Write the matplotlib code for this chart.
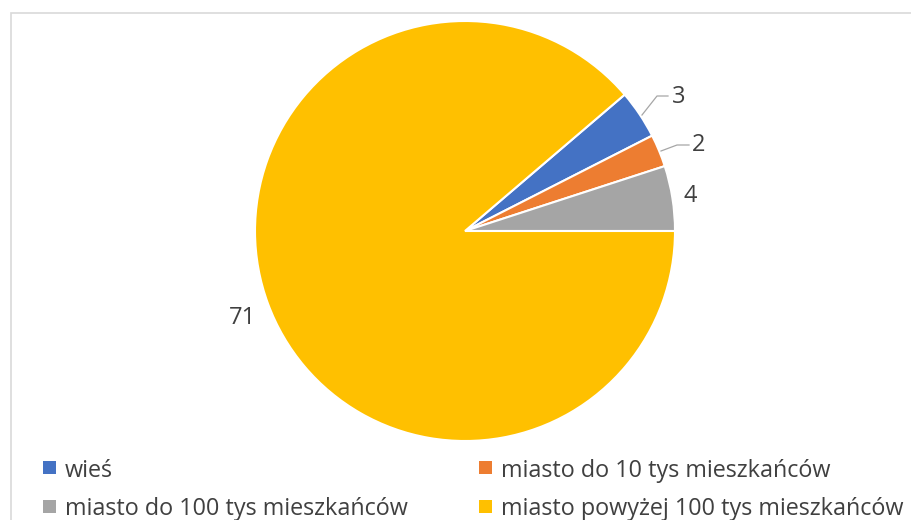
import matplotlib
matplotlib.use("Agg")
import matplotlib.pyplot as plt
from matplotlib.patches import Rectangle

categories = ["wieś", "miasto do 10 tys mieszkańców",
              "miasto do 100 tys mieszkańców", "miasto powyżej 100 tys mieszkańców"]
values = [3, 2, 4, 71]
colors = ["#4472C4", "#ED7D31", "#A5A5A5", "#FFC000"]

plt.rcParams['font.family'] = ['Open Sans', 'DejaVu Sans']
txt_color = "#404040"

W, H = 912, 520
fig = plt.figure(figsize=(W / 100, H / 100), dpi=100)

# outer chart frame
fig.patches.append(Rectangle((11 / W, -0.1), 1.2, 1 - 13 / H + 0.1,
                             transform=fig.transFigure, fill=False,
                             edgecolor="#d9d9d9", linewidth=1.2))

cx, cy, r = 465, 231, 210
ax = fig.add_axes([(cx - r) / W, (H - cy - r) / H, 2 * r / W, 2 * r / H])
wedges, _ = ax.pie(values, colors=colors, startangle=40.5, counterclock=False,
                   radius=1, wedgeprops=dict(edgecolor="white", linewidth=1.5))
ax.set_xlim(-1, 1)
ax.set_ylim(-1, 1)
ax.set_aspect("equal")
ax.axis("off")


def px(x, y):
    # pixel position -> pie data coordinates
    return (x - cx) / r, (cy - y) / r


# data labels (px positions) and leader lines
label_pos = [(679, 97), (699, 145), (690, 196), (243, 318)]
leaders = [[(642, 115), (657, 96), (668, 96)],
           [(661, 151), (677, 145), (689, 145)],
           None, None]
for v, pos, ld in zip(values, label_pos, leaders):
    x, y = px(*pos)
    ax.text(x, y, str(v), ha="center", va="center", fontsize=17,
            color=txt_color, clip_on=False)
    if ld:
        pts = [px(*p) for p in ld]
        ax.plot([p[0] for p in pts], [p[1] for p in pts], color="#a6a6a6",
                linewidth=0.9, clip_on=False)

# legend, two columns (marker left edge, row centre, text baseline)
leg_pos = [(43, 467, 477), (479, 467, 477), (43, 506, 515), (479, 506, 515)]
for (lx, ly, lb), c, name in zip(leg_pos, colors, categories):
    fig.patches.append(Rectangle((lx / W, (H - ly - 6.5) / H), 13 / W, 13 / H,
                                 transform=fig.transFigure, facecolor=c,
                                 edgecolor="none"))
    fig.text((lx + 22) / W, (H - lb) / H, name, ha="left", va="baseline",
             fontsize=16.8, color=txt_color)

fig.savefig("out.png", dpi=100)
